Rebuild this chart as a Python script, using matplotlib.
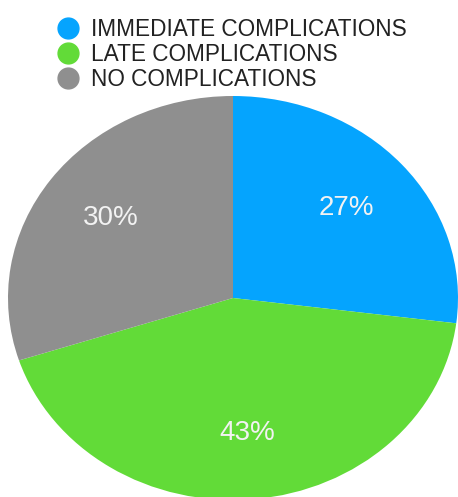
import matplotlib.pyplot as plt
from matplotlib.lines import Line2D

# data
labels = ['IMMEDIATE COMPLICATIONS', 'LATE COMPLICATIONS', 'NO COMPLICATIONS']
shares = [27, 43, 30]
colors = ['#05a4fe', '#62db38', '#8f8f8f']

plt.rcParams['font.family'] = ['Liberation Sans', 'DejaVu Sans']

fig = plt.figure(figsize=(4.58, 4.97), dpi=100)
# pie area is slightly stretched horizontally in the original
ax = fig.add_axes([8 / 458, -3 / 497, 450 / 458, 404 / 497])

wedges, texts, autotexts = ax.pie(shares, colors=colors, startangle=90, counterclock=False,
                                  autopct='%d%%', pctdistance=0.67,
                                  textprops={'color': '#f2f2f2', 'fontsize': 20})
ax.set_aspect('auto')
ax.set_xlim(-1, 1)
ax.set_ylim(-1, 1)
ax.axis('off')

# legend with round markers at the top
handles = [Line2D([], [], marker='o', linestyle='', markersize=15, color=c) for c in colors]
fig.legend(handles, labels, loc='upper left', bbox_to_anchor=(45 / 458, 1 - 9 / 497),
           frameon=False, fontsize=16.3, handletextpad=0.45, labelspacing=0.09,
           borderaxespad=0, labelcolor='#222222', handlelength=1.2)

fig.savefig('out.png', dpi=100)
